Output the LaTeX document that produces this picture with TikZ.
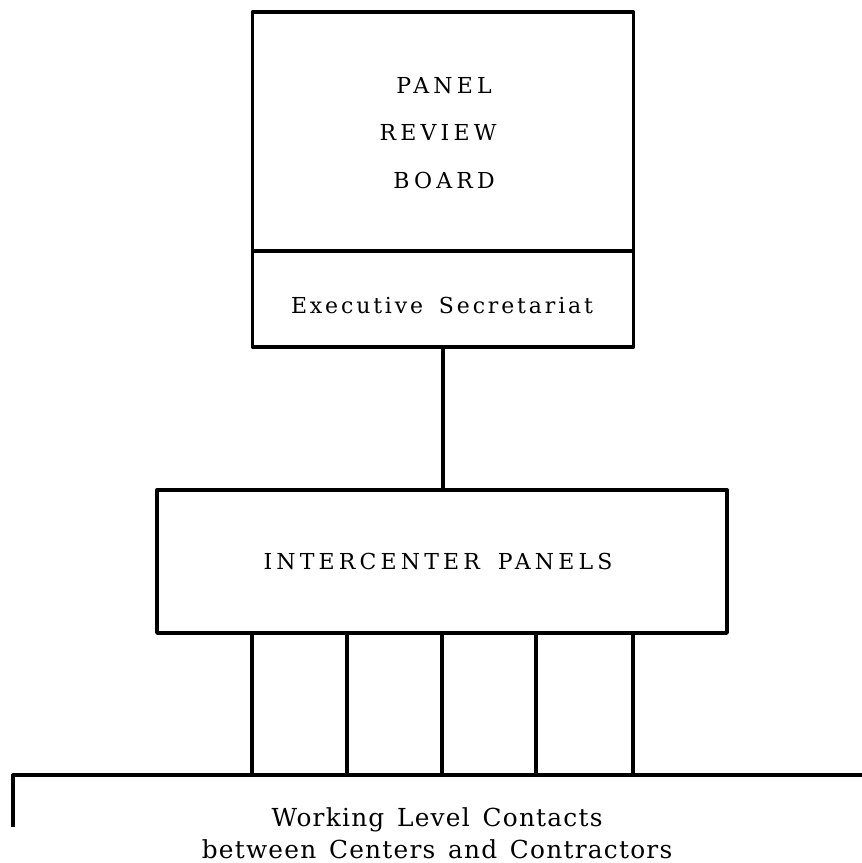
\documentclass[tikz,border=0pt]{standalone}
\usepackage{fontspec}
\setmainfont{DejaVu Serif}
\newfontfamily\capsserif{DejaVu Serif}[LetterSpace=19,WordSpace=1.6]
\newfontfamily\spacedserif{DejaVu Serif}[LetterSpace=13,WordSpace=1.6]
\newfontfamily\looseserif{DejaVu Serif}[LetterSpace=5,WordSpace=1.4]
\begin{document}
\begin{tikzpicture}[x=0.5pt,y=-0.5pt,
  frame/.style={draw=black, line width=1.7pt, inner sep=0pt, line join=round},
  link/.style={draw=black, line width=2pt},
  trunk/.style={draw=black, line width=2.3pt},
  rule/.style={draw=black, line width=1.6pt, line join=round},
  title/.style={anchor=base, inner sep=0pt, font=\capsserif\fontsize{11}{13}\selectfont},
  caption/.style={anchor=base, inner sep=0pt, font=\spacedserif\fontsize{11}{13}\selectfont},
  lowcaption/.style={anchor=base, inner sep=0pt, font=\looseserif\fontsize{12.4}{14}\selectfont}]
\useasboundingbox (0,0) rectangle (862,863);

% Panel Review Board with its secretariat compartment
\node[frame, minimum width=190.5pt, minimum height=167.5pt] (board) at (443,179.5) {};
\coordinate (divider) at (443,251);
\draw[rule] (board.west |- divider) -- (board.east |- divider);
\node[title] (t1) at (444,93) {PANEL};
\node[title] (t2) at (438,140) {REVIEW};
\node[title] (t3) at (444,188) {BOARD};
\node[caption] (sec) at (442,313) {Executive Secretariat};

% Intercenter panels
\node[frame, minimum width=285pt, minimum height=71.5pt] (panels) at (442,561.5) {};
\node[title] (ptext) at (438,569) {INTERCENTER PANELS};

\draw[trunk] (board.south) -- (board.south |- panels.north);

% Working level contacts
\coordinate (wlL) at (13,775);
\coordinate (wlR) at (862,775);
\coordinate (wlD) at (13,827);
\draw[rule] (wlD) -- (wlL) -- (wlR);

\foreach \i/\x in {1/252,2/347,3/442,4/536,5/633}{
  \coordinate (k\i) at (\x,775);
  \draw[link] (panels.south -| k\i) -- (k\i);
}

\node[lowcaption] (w1) at (437,826) {Working Level Contacts};
\node[lowcaption] (w2) at (437,858) {between Centers and Contractors};
\end{tikzpicture}
\end{document}
